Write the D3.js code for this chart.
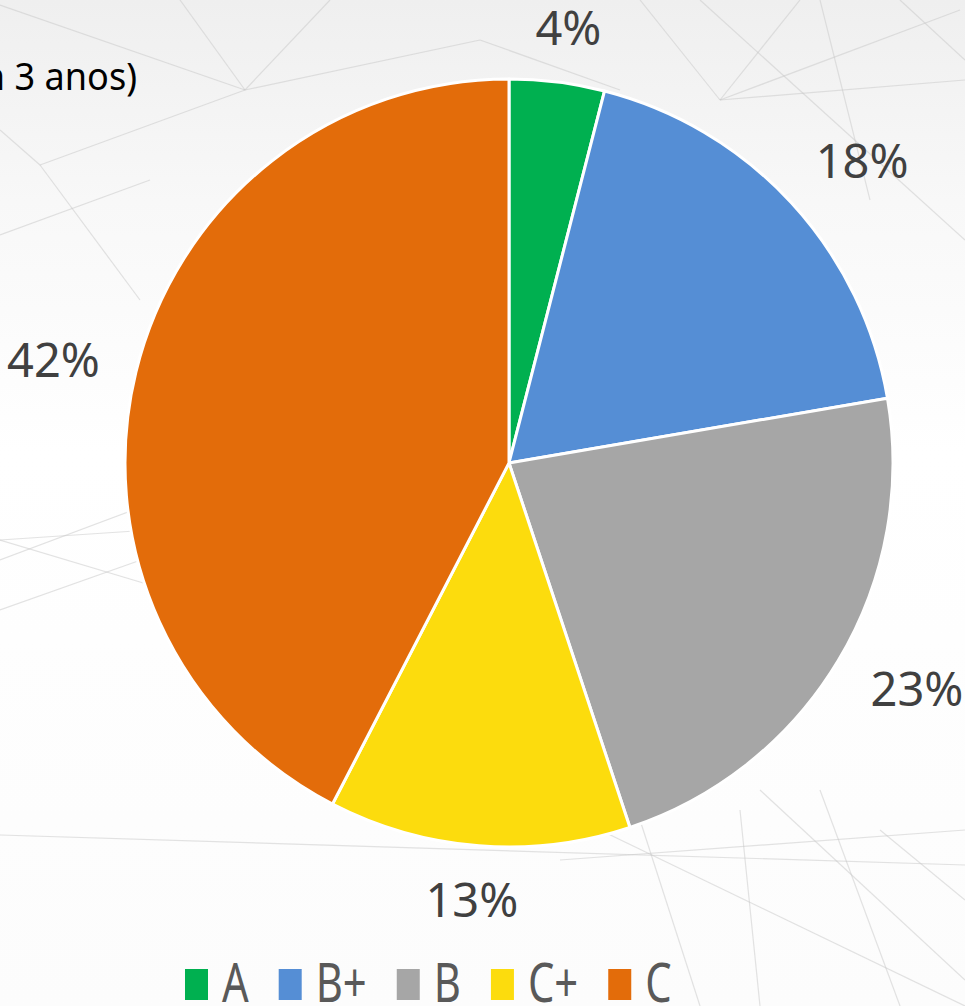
<!DOCTYPE html>
<html>
<head>
<meta charset="utf-8">
<script src="https://cdn.jsdelivr.net/npm/d3@7"></script>
<style>
  html, body { margin: 0; padding: 0; background: #ffffff; }
  svg { display: block; }
</style>
</head>
<body>
<svg id="chart" width="965" height="1006"></svg>
<script>
// ---- data ----
const categories = ["A", "B+", "B", "C+", "C"];
const values = [4.0, 18.3, 22.6, 12.7, 42.4];
const valueLabels = ["4%", "18%", "23%", "13%", "42%"];
const colors = ["#00B050", "#558ED5", "#A6A6A6", "#FCDC0D", "#E36C0A"];
const titleText = "n 3 anos)";

// ---- layout ----
const W = 965, H = 1006;
const cx = 509, cy = 463, R = 384;

const svg = d3.select("#chart");

// background decoration: faint gradient band and network lines
const defs = svg.append("defs");
const grad = defs.append("linearGradient").attr("id", "bgGrad")
  .attr("x1", 0).attr("y1", 0).attr("x2", 0).attr("y2", 1);
grad.append("stop").attr("offset", "0%").attr("stop-color", "#efefef");
grad.append("stop").attr("offset", "20%").attr("stop-color", "#f8f8f8");
grad.append("stop").attr("offset", "45%").attr("stop-color", "#ffffff");
grad.append("stop").attr("offset", "100%").attr("stop-color", "#fcfcfc");
svg.append("rect").attr("width", W).attr("height", H).attr("fill", "url(#bgGrad)");

const bgLines = [
  [0, 5, 245, 90], [245, 90, 40, 165], [40, 165, 0, 130], [245, 90, 180, 0],
  [245, 90, 330, 0], [245, 90, 480, 40], [480, 40, 620, 90], [40, 165, 140, 300],
  [0, 235, 150, 180], [720, 100, 960, 10], [720, 100, 640, 0], [720, 100, 800, 0],
  [720, 100, 965, 80], [700, 0, 965, 240], [900, 0, 965, 60], [820, 0, 870, 200],
  [0, 540, 150, 530], [0, 560, 160, 500], [0, 610, 155, 555], [0, 540, 150, 585],
  [0, 835, 965, 865], [600, 830, 965, 1006], [640, 820, 700, 1006], [740, 810, 760, 1006],
  [760, 790, 965, 980], [820, 790, 900, 1006], [880, 830, 965, 900], [560, 860, 965, 830]
];
svg.append("g").selectAll("line").data(bgLines).join("line")
  .attr("x1", d => d[0]).attr("y1", d => d[1])
  .attr("x2", d => d[2]).attr("y2", d => d[3])
  .attr("stroke", "#c8c8c8").attr("stroke-opacity", 0.5).attr("stroke-width", 1.2);

// title fragment (cut by the left edge, as in the original)
svg.append("text")
  .attr("transform", "translate(137,90) scale(0.95,1)")
  .attr("text-anchor", "end")
  .attr("font-family", "'Noto Sans', sans-serif")
  .attr("font-size", 38)
  .attr("fill", "#000000")
  .text(titleText);

// ---- pie ----
const data = categories.map((c, i) => ({ cat: c, value: values[i], label: valueLabels[i], color: colors[i] }));
const pie = d3.pie().value(d => d.value).sort(null);
const arcs = pie(data);
const arc = d3.arc().innerRadius(0).outerRadius(R);

const g = svg.append("g").attr("transform", `translate(${cx},${cy})`);
g.selectAll("path").data(arcs).join("path")
  .attr("d", arc)
  .attr("fill", d => d.data.color)
  .attr("stroke", "#ffffff")
  .attr("stroke-width", 3)
  .attr("stroke-linejoin", "round");

// labels outside end
const labelSize = 47;
const capH = labelSize * 0.714;
const gap = 34;
const stretch = 1.08;
const lbl = g.selectAll("text.lbl").data(arcs).join("text")
  .attr("class", "lbl")
  .attr("font-family", "'Noto Sans', sans-serif")
  .attr("font-size", labelSize)
  .attr("fill", "#404040")
  .attr("text-anchor", "middle")
  .text(d => d.data.label);
lbl.each(function (d) {
  const w = this.getComputedTextLength();
  const mid = (d.startAngle + d.endAngle) / 2;
  const a = Math.atan2(stretch * Math.sin(mid), Math.cos(mid));
  const ux = Math.sin(a), uy = -Math.cos(a);
  const ext = Math.abs(ux) * w / 2 + Math.abs(uy) * capH / 2;
  const r = R + gap + ext;
  d3.select(this).attr("x", ux * r).attr("y", uy * r + capH / 2);
});

// ---- legend ----
const legend = svg.append("g").attr("class", "legend");
const markerW = 23, markerH = 31, textGap = 14, itemGap = 30;
const legendStart = 185, legendTop = 969, legendBase = 1002;
const legendScaleX = 0.76;
let xCursor = legendStart;
data.forEach(d => {
  const item = legend.append("g").attr("transform", `translate(${xCursor},0)`);
  item.append("rect")
    .attr("x", 0).attr("y", legendTop).attr("width", markerW).attr("height", markerH)
    .attr("fill", d.color);
  const t = item.append("text")
    .attr("transform", `translate(${markerW + textGap},${legendBase}) scale(${legendScaleX},1)`)
    .attr("font-family", "'Noto Sans', sans-serif")
    .attr("font-size", 55)
    .attr("fill", "#595959")
    .text(d.cat);
  const tw = t.node().getComputedTextLength() * legendScaleX;
  xCursor += markerW + textGap + tw + itemGap;
});
</script>
</body>
</html>
